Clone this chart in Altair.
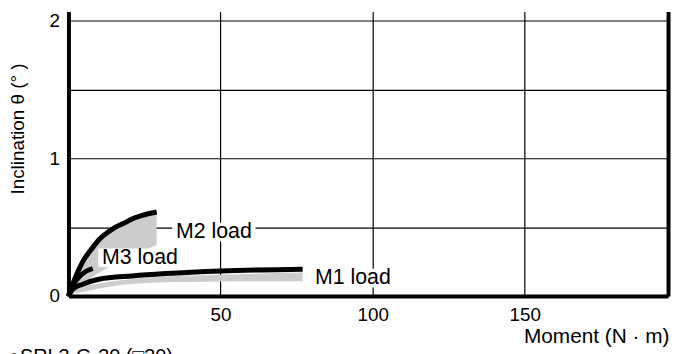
import altair as alt
import pandas as pd

# ---- data ----
m1_x = [0, 1.4, 4.7, 10, 21, 32, 50, 77]
m1_y = [0, 0.05, 0.086, 0.122, 0.146, 0.163, 0.182, 0.195]
m1_band_x = [0, 1.4, 4.7, 10, 26, 50, 77]
m1_band_lo = [0, 0.015, 0.03, 0.055, 0.095, 0.105, 0.108]
m1_band_hi = [0, 0.035, 0.065, 0.09, 0.135, 0.155, 0.17]

m2_x = [0, 1, 2, 4.7, 7.9, 10.1, 13.4, 15.5, 18.8, 20.9, 24.2, 29]
m2_y = [0, 0.06, 0.12, 0.25, 0.35, 0.41, 0.47, 0.50, 0.535, 0.56, 0.585, 0.61]
m2_band_x = [0, 2, 4.7, 7.9, 10.1, 13.4, 15.5, 18.8, 20.9, 24.2, 29]
m2_band_lo = [0, 0.045, 0.09, 0.14, 0.17, 0.21, 0.235, 0.27, 0.29, 0.325, 0.37]
m2_band_hi = [0, 0.12, 0.25, 0.35, 0.41, 0.47, 0.50, 0.535, 0.56, 0.585, 0.61]

m3_x = [0, 1.4, 4, 8]
m3_y = [0, 0.075, 0.15, 0.2]

label_text = ["M2 load", "M3 load", "M1 load"]
label_x = [47.8, 23.5, 93.5]
label_y = [0.464, 0.277, 0.13]

x_ticks = [0, 50, 100, 150]
y_ticks = [0, 0.5, 1, 1.5, 2]
caption = "●SRL3-G-30 (□30)"

FONT = "Liberation Sans"
XDOM = [0, 197.1]
YDOM = [0, 2.065]

lines = pd.concat([
    pd.DataFrame({"x": m1_x, "y": m1_y, "s": "M1"}),
    pd.DataFrame({"x": m2_x, "y": m2_y, "s": "M2"}),
    pd.DataFrame({"x": m3_x, "y": m3_y, "s": "M3"}),
])
bands = pd.concat([
    pd.DataFrame({"x": m1_band_x, "lo": m1_band_lo, "hi": m1_band_hi, "s": "M1"}),
    pd.DataFrame({"x": m2_band_x, "lo": m2_band_lo, "hi": m2_band_hi, "s": "M2"}),
])
labels = pd.DataFrame({"t": label_text, "x": label_x, "y": label_y})

xs = alt.Scale(domain=XDOM, nice=False, zero=False)
ys = alt.Scale(domain=YDOM, nice=False, zero=False)

x_axis = alt.Axis(
    values=x_ticks, labelExpr="datum.value == 0 ? '' : datum.label",
    grid=True, title="Moment (N · m)", titleX=606, titleY=47,
    titleAlign="right", titleBaseline="alphabetic", titleFontSize=21,
    labelPadding=10)
X = alt.X("x:Q", scale=xs, axis=x_axis)

axes_layer = alt.Chart(bands).mark_area(color="#cccccc", opacity=1, interpolate="monotone").encode(
    x=X,
    y=alt.Y("lo:Q", scale=ys, axis=alt.Axis(
        values=y_ticks, labelExpr="datum.value % 1 == 0 ? format(datum.value, 'd') : ''",
        grid=True, title="Inclination θ (° )", titleX=-41, titleY=118,
        titleFontSize=19, labelPadding=9)),
    y2="hi:Q",
    detail="s:N",
)

right_axis = alt.Chart(bands).mark_area(opacity=0).encode(
    x=X,
    y=alt.Y("lo:Q", scale=ys, axis=alt.Axis(orient="right", labels=False, ticks=False,
                                              grid=False, title=None, domain=True)),
    detail="s:N",
)

boxes = alt.Chart(labels).mark_rect(color="white", xOffset=-42, x2Offset=42,
                                    yOffset=-9.5, y2Offset=9.5).encode(
    x=X, x2="x:Q",
    y=alt.Y("y:Q", scale=ys, axis=None), y2="y:Q",
)

curves = alt.Chart(lines).mark_line(color="black", strokeWidth=5, interpolate="monotone",
                                    strokeCap="butt").encode(
    x=X,
    y=alt.Y("y:Q", scale=ys, axis=None),
    detail="s:N",
)

texts = alt.Chart(labels).mark_text(font=FONT, fontSize=21.5, color="black",
                                    align="center", baseline="middle").encode(
    x=X,
    y=alt.Y("y:Q", scale=ys, axis=None),
    text="t:N",
)

cap = alt.Chart(pd.DataFrame({"t": [caption]})).mark_text(
    font=FONT, fontSize=20, color="black", align="left", baseline="alphabetic").encode(
    x=alt.value(-61), y=alt.value(355), text="t:N")

chart = alt.layer(axes_layer, right_axis, boxes, curves, texts, cap).resolve_axis(
    y="independent"
).properties(
    width=605, height=287,
    autosize=alt.AutoSizeParams(type="none"),
    padding={"left": 61, "top": 2, "right": 3, "bottom": 70},
).configure_view(stroke=None).configure_axis(
    domainColor="black", domainWidth=4, ticks=False,
    gridColor="black", gridWidth=1.2, gridOpacity=1,
    labelFont=FONT, labelFontSize=19, labelColor="black",
    titleFont=FONT, titleFontWeight="normal", titleColor="black",
)

chart.save("out.html", embed_options={"renderer": "svg", "actions": False})
